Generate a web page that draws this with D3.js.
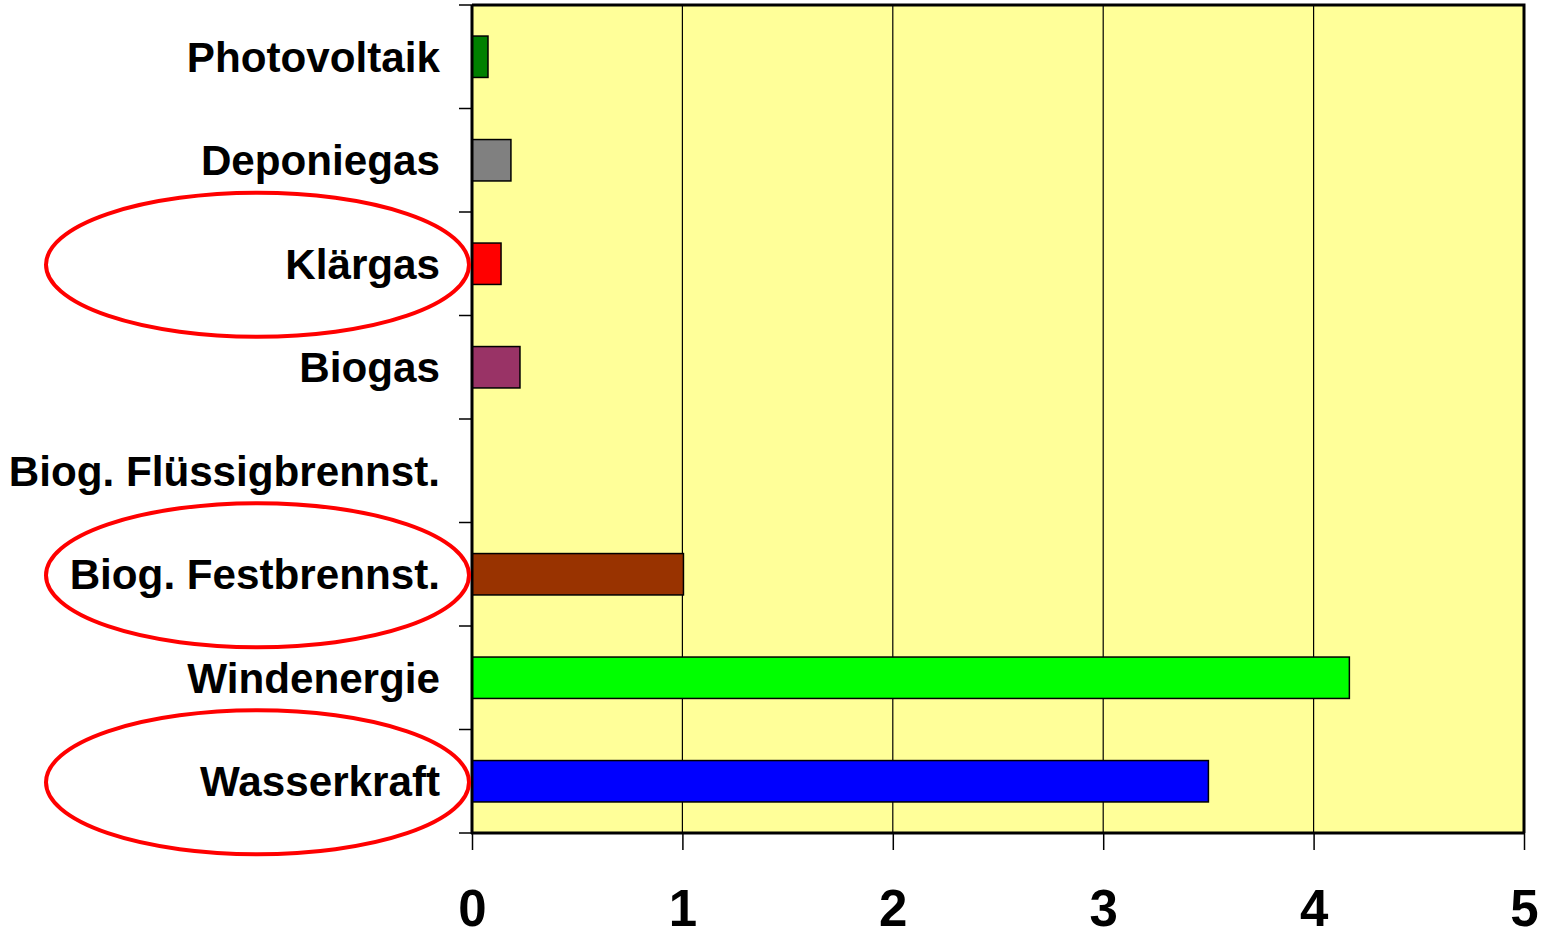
<!DOCTYPE html>
<html>
<head>
<meta charset="utf-8">
<script src="https://cdn.jsdelivr.net/npm/d3@7"></script>
<style>
  html, body { margin: 0; padding: 0; background: #fff; }
  svg { display: block; font-family: "Liberation Sans", Arial, sans-serif; font-weight: bold; }
</style>
</head>
<body>
<script>
// categories, top to bottom
const categories = ["Photovoltaik", "Deponiegas", "Klärgas", "Biogas",
  "Biog. Flüssigbrennst.", "Biog. Festbrennst.", "Windenergie", "Wasserkraft"];
const values = [0.076, 0.185, 0.138, 0.228, 0, 1.005, 4.17, 3.50];
const colors = ["#008000", "#808080", "#ff0000", "#993366",
  "#ffffff", "#993300", "#00ff00", "#0000ff"];
const xTicks = [0, 1, 2, 3, 4, 5];
// categories that get a red ellipse
const circled = ["Klärgas", "Biog. Festbrennst.", "Wasserkraft"];

const width = 1546, height = 932;
const plotLeft = 472, plotRight = 1524, plotTop = 5, plotBottom = 833;

const svg = d3.select("body").append("svg")
  .attr("width", width)
  .attr("height", height);

const x = d3.scaleLinear().domain([0, 5]).range([plotLeft, plotRight]);
const y = d3.scaleBand().domain(categories).range([plotTop, plotBottom])
  .paddingInner(0.6).paddingOuter(0.3);
const step = y.step();

// plot background
svg.append("rect")
  .attr("x", plotLeft).attr("y", plotTop)
  .attr("width", plotRight - plotLeft).attr("height", plotBottom - plotTop)
  .attr("fill", "#ffff99");

// vertical grid lines
svg.append("g").selectAll("line")
  .data(xTicks.slice(1, -1))
  .join("line")
  .attr("x1", d => x(d)).attr("x2", d => x(d))
  .attr("y1", plotTop).attr("y2", plotBottom)
  .attr("stroke", "#000").attr("stroke-width", 1.2);

// bars
svg.append("g").selectAll("rect")
  .data(categories.map((c, i) => ({c, v: values[i], col: colors[i]})).filter(d => d.v > 0))
  .join("rect")
  .attr("x", x(0))
  .attr("y", d => y(d.c))
  .attr("width", d => x(d.v) - x(0))
  .attr("height", y.bandwidth())
  .attr("fill", d => d.col)
  .attr("stroke", "#000")
  .attr("stroke-width", 1.5);

// frame: top + right
svg.append("path")
  .attr("d", `M${plotLeft},${plotTop}H${plotRight}V${plotBottom}`)
  .attr("fill", "none").attr("stroke", "#000").attr("stroke-width", 3);

// left axis: ticks at band boundaries
const boundaries = d3.range(categories.length + 1).map(i => plotTop + i * step);
svg.append("g").selectAll("line")
  .data(boundaries)
  .join("line")
  .attr("x1", plotLeft - 13).attr("x2", plotLeft)
  .attr("y1", d => d).attr("y2", d => d)
  .attr("stroke", "#000").attr("stroke-width", 1.5);

// bottom axis
const xAxis = d3.axisBottom(x).tickValues(xTicks).tickSize(17).tickPadding(0)
  .tickFormat(d3.format("d"));
const gx = svg.append("g")
  .attr("transform", `translate(0,${plotBottom})`)
  .call(xAxis);
gx.select(".domain").remove();
gx.selectAll(".tick line").attr("stroke", "#000").attr("stroke-width", 1.5);
gx.selectAll(".tick text")
  .attr("fill", "#000")
  .attr("y", 93)
  .attr("dy", null)
  .style("font-size", "51px")
  .style("font-weight", "bold")
  .style("font-family", "'Liberation Sans', Arial, sans-serif");

// axis lines (thick)
svg.append("line")
  .attr("x1", plotLeft).attr("x2", plotLeft).attr("y1", plotTop).attr("y2", plotBottom + 1)
  .attr("stroke", "#000").attr("stroke-width", 3);
svg.append("line")
  .attr("x1", plotLeft - 1).attr("x2", plotRight + 1).attr("y1", plotBottom).attr("y2", plotBottom)
  .attr("stroke", "#000").attr("stroke-width", 3);

// category labels
svg.append("g").selectAll("text")
  .data(categories)
  .join("text")
  .attr("x", 440)
  .attr("y", d => y(d) + y.bandwidth() / 2 + 15)
  .attr("text-anchor", "end")
  .attr("font-size", 42.2)
  .attr("fill", "#000")
  .text(d => d);

// red ellipses around highlighted labels
svg.append("g").selectAll("ellipse")
  .data(circled)
  .join("ellipse")
  .attr("cx", 257.5)
  .attr("cy", d => y(d) + y.bandwidth() / 2 + 1)
  .attr("rx", 211.5)
  .attr("ry", 72)
  .attr("fill", "none")
  .attr("stroke", "#ff0000")
  .attr("stroke-width", 4);
</script>
</body>
</html>
